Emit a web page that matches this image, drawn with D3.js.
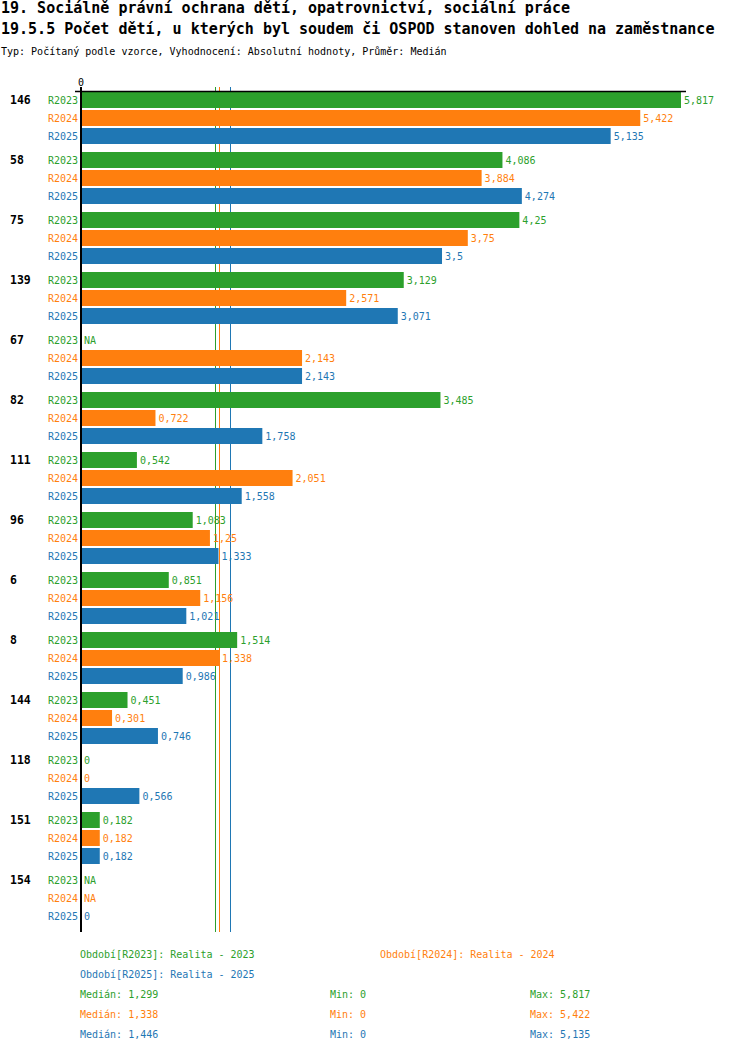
<!DOCTYPE html>
<html><head><meta charset="utf-8">
<script src="https://cdn.jsdelivr.net/npm/d3@7"></script>
<style>body{margin:0;background:#fff}svg{display:block}text{font-family:"DejaVu Sans Mono",monospace}</style>
</head><body><svg id="c" width="750" height="1052"></svg>
<script>
const categories = ["146","58","75","139","67","82","111","96","6","8","144","118","151","154"];
const seriesNames = ["R2023","R2024","R2025"];
const r2023 = [5.817,4.086,4.25,3.129,null,3.485,0.542,1.083,0.851,1.514,0.451,0,0.182,null];
const r2024 = [5.422,3.884,3.75,2.571,2.143,0.722,2.051,1.25,1.156,1.338,0.301,0,0.182,null];
const r2025 = [5.135,4.274,3.5,3.071,2.143,1.758,1.558,1.333,1.021,0.986,0.746,0.566,0.182,0];
const medians = [1.299,1.338,1.446];
const mins = [0,0,0];
const maxs = [5.817,5.422,5.135];
const legendNames = ["Období[R2023]: Realita - 2023","Období[R2024]: Realita - 2024","Období[R2025]: Realita - 2025"];
const colors = ["#2ca02c","#ff7f0e","#1f77b4"];
const title1 = "19. Sociálně právní ochrana dětí, opatrovnictví, sociální práce";
const title2 = "19.5.5 Počet dětí, u kterých byl soudem či OSPOD stanoven dohled na zaměstnance";
const subtitle = "Typ: Počítaný podle vzorce, Vyhodnocení: Absolutní hodnoty, Průměr: Medián";

const series = [r2023, r2024, r2025];
const svg = d3.select("#c");
const fmt = v => v === null ? "NA" : String(v).replace(".", ",");

svg.append("text").attr("x",1).attr("y",13).attr("font-size",15).attr("font-weight","bold").text(title1);
svg.append("text").attr("x",1).attr("y",34).attr("font-size",15).attr("font-weight","bold").text(title2);
svg.append("text").attr("x",1).attr("y",55).attr("font-size",10).text(subtitle);

const x = d3.scaleLinear().domain([0, d3.max(maxs)]).range([81, 681]);
const yG = d3.scaleBand().domain(categories).range([92, 932]);
const yS = d3.scaleBand().domain(seriesNames).range([0, 52]).paddingInner(1/9);

// median lines (behind bars)
medians.forEach((m,i)=>{
  svg.append("line").attr("x1",Math.round(x(m))+0.5).attr("x2",Math.round(x(m))+0.5)
    .attr("y1",87).attr("y2",932).attr("stroke",colors[i]).attr("stroke-width",1);
});

const g = svg.selectAll("g.grp").data(categories).join("g").attr("class","grp")
  .attr("transform", d=>`translate(0,${yG(d)})`);

g.append("text").attr("x",10).attr("y",yS("R2023")+yS.bandwidth()/2).attr("dy","0.35em")
  .attr("font-size",11.5).attr("font-weight","bold").text(d=>d);

seriesNames.forEach((s,si)=>{
  g.append("text").attr("x",78).attr("y",yS(s)+yS.bandwidth()/2).attr("dy","0.35em")
    .attr("text-anchor","end").attr("font-size",10).attr("fill",colors[si]).text(s);
  g.append("rect").attr("x",x(0)).attr("y",yS(s)).attr("height",yS.bandwidth())
    .attr("width",(d,i)=>series[si][i]===null?0:x(series[si][i])-x(0)).attr("fill",colors[si]);
  g.append("text").attr("x",(d,i)=>x(series[si][i]===null?0:series[si][i])+3)
    .attr("y",yS(s)+yS.bandwidth()/2).attr("dy","0.35em")
    .attr("font-size",10).attr("fill",colors[si]).text((d,i)=>fmt(series[si][i]));
});

// axes
svg.append("line").attr("x1",75).attr("x2",686).attr("y1",91.5).attr("y2",91.5).attr("stroke","#000").attr("stroke-width",1.3);
svg.append("line").attr("x1",81).attr("x2",81).attr("y1",87).attr("y2",932).attr("stroke","#000").attr("stroke-width",2);
svg.append("text").attr("x",x(0)).attr("y",82).attr("dy","0.35em").attr("text-anchor","middle").attr("font-size",10).text("0");

// legend
const legPos = [[80,954],[380,954],[80,974]];
legendNames.forEach((n,i)=>{
  svg.append("text").attr("x",legPos[i][0]).attr("y",legPos[i][1]).attr("dy","0.35em")
    .attr("font-size",10).attr("fill",colors[i]).text(n);
});
seriesNames.forEach((s,i)=>{
  const yy = 994 + i*20;
  svg.append("text").attr("x",80).attr("y",yy).attr("dy","0.35em").attr("font-size",10).attr("fill",colors[i]).text("Medián: "+fmt(medians[i]));
  svg.append("text").attr("x",330).attr("y",yy).attr("dy","0.35em").attr("font-size",10).attr("fill",colors[i]).text("Min: "+fmt(mins[i]));
  svg.append("text").attr("x",530).attr("y",yy).attr("dy","0.35em").attr("font-size",10).attr("fill",colors[i]).text("Max: "+fmt(maxs[i]));
});
</script></body></html>
